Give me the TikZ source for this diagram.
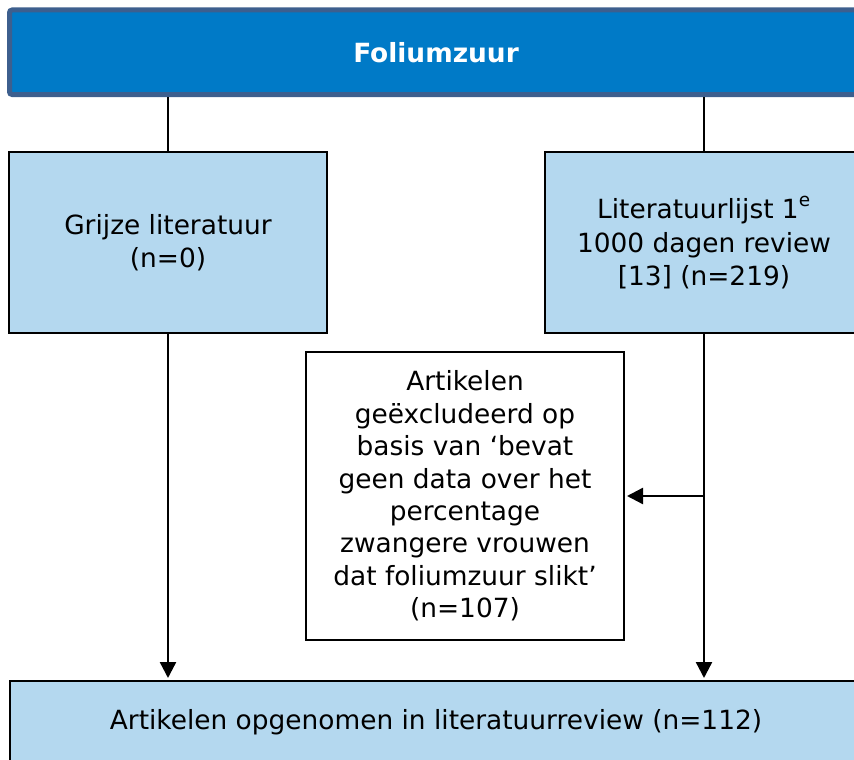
\documentclass[tikz,border=0pt]{standalone}
\usepackage{fontspec}
\setmainfont{DejaVu Sans}
\usetikzlibrary{arrows.meta}
\definecolor{barfill}{RGB}{0,122,199}
\definecolor{barline}{RGB}{61,95,142}
\definecolor{boxfill}{RGB}{180,216,239}
\begin{document}
\begin{tikzpicture}[x=0.75pt,y=-0.75pt,
  every node/.style={font=\fontsize{19.8pt}{24.4pt}\selectfont, align=center, inner sep=0pt},
  headbar/.style={draw=barline, fill=barfill, line width=3.75pt, rounded corners=2pt,
    text=white, font=\fontsize{19.8pt}{24.4pt}\selectfont\bfseries,
    minimum width=639.75pt, minimum height=63.4pt},
  srcbox/.style={draw=black, fill=boxfill, line width=1.5pt,
    font=\fontsize{19.8pt}{25pt}\selectfont,
    minimum width=238.5pt, minimum height=135.75pt},
  exclbox/.style={draw=black, fill=white, line width=1.5pt,
    font=\fontsize{19.8pt}{24.3pt}\selectfont,
    minimum width=238.5pt, minimum height=216pt},
  resultbox/.style={draw=black, fill=boxfill, line width=1.5pt,
    minimum width=639pt, minimum height=61.5pt},
  link/.style={line width=1.8pt},
  flow/.style={line width=1.8pt, -{Triangle[length=12pt,width=12pt]}, shorten >=1.5pt}]
\useasboundingbox (0,0) rectangle (854,760);

\node[headbar] (top) at (436,52.25) {Foliumzuur};
\node[srcbox] (grey) at (168,242.5) {Grijze literatuur\\(n=0)};
\node[srcbox] (lit) at (704,242.5) {Literatuurlijst 1\raisebox{2pt}{\textsuperscript{e}}\\1000 dagen review\\{}[13] (n=219)};
\node[exclbox] (excl) at (465,496) {Artikelen\\geëxcludeerd op\\basis van ‘bevat\\geen data over het\\percentage\\zwangere vrouwen\\dat foliumzuur slikt’\\(n=107)};
\node[resultbox] (incl) at (436,722) {Artikelen opgenomen in literatuurreview (n=112)};

\draw[link] (top.south -| grey.north) -- (grey.north);
\draw[link] (top.south -| lit.north) -- (lit.north);
\draw[flow] (grey.south) -- (incl.north -| grey.south);
\draw[flow] (lit.south) -- (incl.north -| lit.south);
\coordinate (branch) at (lit.south |- excl.east);
\draw[flow] (branch) -- (excl.east);
\end{tikzpicture}
\end{document}
